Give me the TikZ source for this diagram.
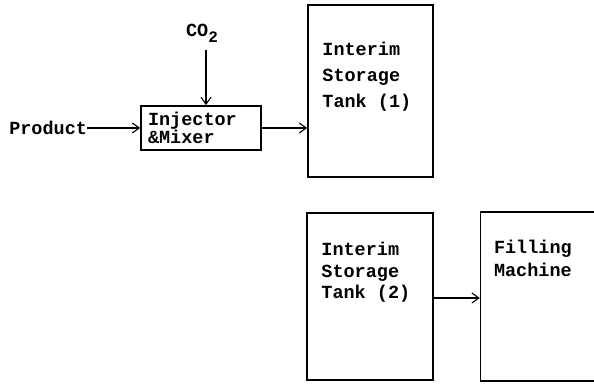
\documentclass[tikz,border=0pt]{standalone}
\usepackage{fontspec}
\setmainfont{Liberation Mono}
\usetikzlibrary{positioning,arrows.meta}
\begin{document}
\begin{tikzpicture}[x=1pt,y=1pt,font=\bfseries\fontsize{18.5}{18}\selectfont]
    \tikzstyle{mixer} = [rectangle, minimum width=120pt, minimum height=44pt, text width=106pt, inner xsep=7pt, align=left, draw=black, line width=1.6pt]
    \tikzstyle{tank} = [rectangle, draw=black, line width=1.6pt]
    \tikzstyle{tanktext} = [inner sep=0pt, align=left]
    \tikzstyle{plain} = [inner sep=0pt]
    \tikzstyle{arrow} = [line width=1.1pt,-{Straight Barb[length=7pt,width=10pt]}]

    \useasboundingbox (0,0) rectangle (594,385);

    \node (inj) [mixer] at (201,257) {Injector\\\&Mixer};
    \node (prod) [plain, left=53pt of inj] {Product};
    \node (co2) [plain, above=62pt of inj, xshift=1pt] {CO\raisebox{-6pt}{\fontsize{16}{16}\selectfont 2}};

    \node (tank1) [tank, minimum width=125pt, minimum height=172pt] at (370.5,294) {};
    \node (tank2) [tank, minimum width=126pt, minimum height=167pt] at (370,88.5) {};
    \node (fill) [tank, minimum width=114pt, minimum height=169pt, right=46pt of tank2] {};

    % texts at the top of the tall boxes
    \node (tank1txt) [tanktext, font=\bfseries\fontsize{18.5}{26}\selectfont, below right=38pt and 15pt of tank1.north west] {Interim\\Storage\\Tank (1)};
    \node (tank2txt) [tanktext, font=\bfseries\fontsize{18.5}{21.5}\selectfont, below right=30pt and 15pt of tank2.north west] {Interim\\Storage\\Tank (2)};
    \node (filltxt) [tanktext, font=\bfseries\fontsize{18.5}{23}\selectfont, below right=29pt and 14pt of fill.north west] {Filling\\Machine};

    \draw [arrow] (prod.east) -- (inj.west);
    \draw [arrow] ([xshift=4pt,yshift=-7pt]co2.south) -- ([xshift=4pt]co2.south |- inj.north);
    \draw [arrow] (inj.east) -- (inj.east -| tank1.west);
    \draw [arrow] ([yshift=-1.5pt]tank2.east) -- ([yshift=-1.5pt]tank2.east -| fill.west);
\end{tikzpicture}
\end{document}
